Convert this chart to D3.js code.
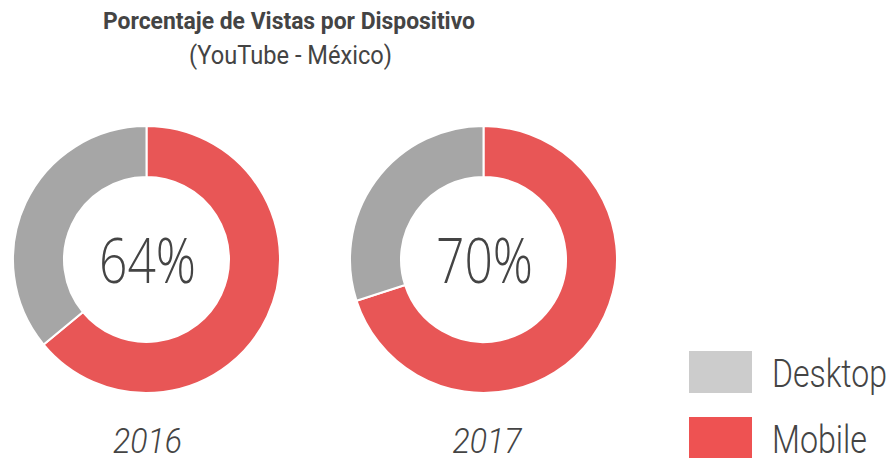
<!DOCTYPE html>
<html>
<head>
<meta charset="utf-8">
<script src="https://cdn.jsdelivr.net/npm/d3@7"></script>
<style>
  html, body { margin: 0; padding: 0; background: #fff; }
  svg { display: block; }
</style>
</head>
<body>
<svg id="chart" width="893" height="458"></svg>
<script>
const years = ["2016", "2017"];
const devices = ["Mobile", "Desktop"];
const mobileValues = [64, 70];
const desktopValues = [36, 30];
const centerLabels = ["64%", "70%"];
const legendLabels = ["Desktop", "Mobile"];
const titleText = "Porcentaje de Vistas por Dispositivo";
const subtitleText = "(YouTube - México)";

const svg = d3.select("#chart");

const donutColor = d3.scaleOrdinal().domain(devices).range(["#e85656", "#a6a6a6"]);
const legendColor = d3.scaleOrdinal().domain(legendLabels).range(["#cccccc", "#ee5252"]);

const x = d3.scalePoint().domain(years).range([146.5, 483.5]);
const cy = 259.5;
const outerR = 133.5, innerR = 82.5;

// Title
svg.append("text")
  .attr("x", 289).attr("y", 29)
  .attr("text-anchor", "middle")
  .attr("font-family", "Roboto")
  .attr("font-weight", 700)
  .attr("font-size", 24)
  .attr("fill", "#444")
  .attr("textLength", 372)
  .attr("lengthAdjust", "spacingAndGlyphs")
  .text(titleText);

svg.append("text")
  .attr("x", 290.5).attr("y", 64)
  .attr("text-anchor", "middle")
  .attr("font-family", "Roboto")
  .attr("font-weight", 400)
  .attr("font-size", 25)
  .attr("fill", "#444")
  .attr("textLength", 203)
  .attr("lengthAdjust", "spacingAndGlyphs")
  .text(subtitleText);

const pie = d3.pie().sort(null).value(d => d.value);
const arc = d3.arc().innerRadius(innerR).outerRadius(outerR);

years.forEach((yr, i) => {
  const data = [
    { device: "Mobile", value: mobileValues[i] },
    { device: "Desktop", value: desktopValues[i] }
  ];
  const g = svg.append("g").attr("transform", `translate(${x(yr)},${cy})`);
  g.selectAll("path")
    .data(pie(data))
    .join("path")
    .attr("d", arc)
    .attr("fill", d => donutColor(d.data.device))
    .attr("stroke", "#fff")
    .attr("stroke-width", 2);

  g.append("text")
    .attr("x", 1).attr("y", 23.5)
    .attr("text-anchor", "middle")
    .attr("font-family", "Open Sans")
    .attr("font-weight", 300)
    .attr("font-size", 63)
    .attr("fill", "#444")
    .attr("textLength", 97)
    .attr("lengthAdjust", "spacingAndGlyphs")
    .text(centerLabels[i]);

  svg.append("text")
    .attr("x", x(yr) + 1 + i * 2.5).attr("y", 453)
    .attr("text-anchor", "middle")
    .attr("font-family", "Roboto")
    .attr("font-weight", 300)
    .attr("font-style", "italic")
    .attr("font-size", 35)
    .attr("fill", "#444")
    .attr("textLength", 69)
    .attr("lengthAdjust", "spacingAndGlyphs")
    .text(yr);
});

// Legend
const ly = d3.scalePoint().domain(legendLabels).range([351, 417]);
const lg = svg.append("g");
legendLabels.forEach((lab, i) => {
  lg.append("rect")
    .attr("x", 689).attr("y", ly(lab))
    .attr("width", 63).attr("height", 42)
    .attr("fill", legendColor(lab));
  lg.append("text")
    .attr("x", 772).attr("y", ly(lab) + 36)
    .attr("font-family", "Roboto")
    .attr("font-weight", 300)
    .attr("font-size", 38)
    .attr("fill", "#444")
    .attr("textLength", lab === "Desktop" ? 115 : 95)
    .attr("lengthAdjust", "spacingAndGlyphs")
    .text(lab);
});
</script>
</body>
</html>
